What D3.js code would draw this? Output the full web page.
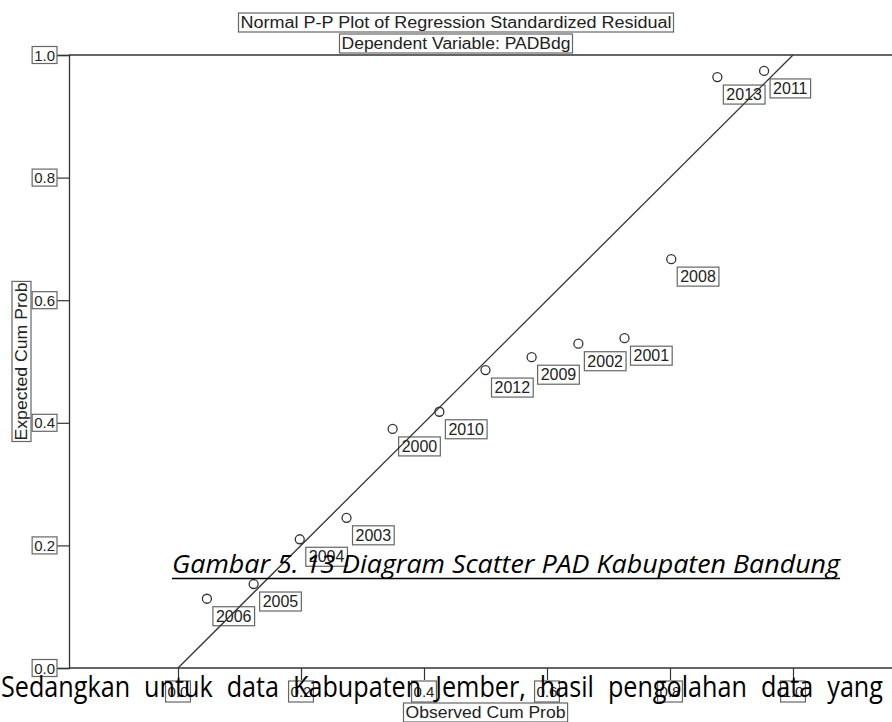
<!DOCTYPE html>
<html>
<head>
<meta charset="utf-8">
<script src="https://cdn.jsdelivr.net/npm/d3@7"></script>
<style>
  body { margin: 0; background: #fff; }
  svg { display: block; }
</style>
</head>
<body>
<div id="chart"></div>
<script>
// points, in the order SPSS draws them along the x axis
const years = ['2006', '2005', '2004', '2003', '2000', '2010', '2012', '2009', '2002', '2001', '2008', '2013', '2011']
const observed = [0.047, 0.123, 0.198, 0.274, 0.349, 0.425, 0.5, 0.575, 0.651, 0.726, 0.802, 0.877, 0.953]
const expected = [0.113, 0.137, 0.21, 0.245, 0.39, 0.418, 0.486, 0.507, 0.529, 0.538, 0.667, 0.964, 0.974]
const tickValues = [0, 0.2, 0.4, 0.6, 0.8, 1.0]
const titleLines = ['Normal P-P Plot of Regression Standardized Residual', 'Dependent Variable: PADBdg']
const xLabel = 'Observed Cum Prob'
const yLabel = 'Expected Cum Prob'
const caption = 'Gambar 5. 13 Diagram Scatter PAD Kabupaten Bandung'
const bodyWords = ['Sedangkan', 'untuk', 'data', 'Kabupaten', 'Jember,', 'hasil', 'pengolahan', 'data', 'yang']

const width = 892
const height = 722
const frame = { left: 69, right: 892, top: 55, bottom: 668 }
const ink = '#333'
const boxInk = '#666'
const spssFont = '"Liberation Sans", Arial, sans-serif'

const x = d3.scaleLinear().domain([0, 1]).range([178, 793])
const y = d3.scaleLinear().domain([0, 1]).range([frame.bottom, frame.top])
const fmt = d3.format('.1f')

const svg = d3.select('#chart').append('svg')
  .attr('width', width)
  .attr('height', height)
  .attr('font-family', spssFont)

// text with a thin box round it, like the SPSS export
function boxed(parent, str, tx, ty, anchor, size, padX, padY, rotate, len) {
  const g = parent.append('g')
  if (rotate) g.attr('transform', `translate(${tx},${ty}) rotate(-90)`)
  const t = g.append('text')
    .attr('x', rotate ? 0 : tx)
    .attr('y', rotate ? 0 : ty)
    .attr('text-anchor', anchor)
    .attr('font-size', size)
    .attr('fill', '#222')
    .text(str)
  if (len) t.attr('textLength', len).attr('lengthAdjust', 'spacingAndGlyphs')
  const b = t.node().getBBox()
  g.insert('rect', 'text')
    .attr('x', b.x - padX)
    .attr('y', b.y - padY)
    .attr('width', b.width + padX * 2)
    .attr('height', b.height + padY * 2)
    .attr('fill', 'none')
    .attr('stroke', boxInk)
    .attr('stroke-width', 1.2)
  return g
}

// titles
boxed(svg, titleLines[0], 456, 28, 'middle', 16, 2, 1, false, 431)
boxed(svg, titleLines[1], 456, 49, 'middle', 16, 2, 1, false, 229)

// frame: top rule, y axis, x axis
svg.append('line')
  .attr('x1', frame.left).attr('x2', frame.right)
  .attr('y1', frame.top).attr('y2', frame.top)
  .attr('stroke', ink).attr('stroke-width', 1.3)

const yAxis = svg.append('g')
  .attr('transform', `translate(${frame.left},0)`)
  .call(d3.axisLeft(y).tickValues(tickValues).tickSize(12).tickFormat(''))
yAxis.select('.domain').attr('stroke', ink).attr('stroke-width', 1.3)
yAxis.selectAll('.tick line').attr('stroke', ink).attr('stroke-width', 1.2)

const xAxis = svg.append('g')
  .attr('transform', `translate(0,${frame.bottom})`)
  .call(d3.axisBottom(x).tickValues(tickValues).tickSize(12).tickFormat(''))
xAxis.select('.domain').remove()
xAxis.selectAll('.tick line').attr('stroke', ink).attr('stroke-width', 1.2)
svg.append('line')
  .attr('x1', frame.left).attr('x2', frame.right)
  .attr('y1', frame.bottom).attr('y2', frame.bottom)
  .attr('stroke', ink).attr('stroke-width', 1.3)

// tick labels in boxes
tickValues.forEach(v => {
  boxed(svg, fmt(v), 55, y(v) + 5.5, 'end', 15, 2, 0)
  boxed(svg, fmt(v), x(v), 697, 'middle', 15, 2, 2)
})

// axis titles
boxed(svg, xLabel, (x(0) + x(1)) / 2, 718, 'middle', 16, 2, 1, false, 160)
boxed(svg, yLabel, 27, (y(0) + y(1)) / 2, 'middle', 16, 1, 1, true, 158)

// point labels
const points = years.map((yr, i) => ({ year: yr, ox: observed[i], ey: expected[i] }))
points.forEach(d => {
  boxed(svg, d.year, x(d.ox) + 9, y(d.ey) + 23, 'start', 16, 3, 1)
})

// reference diagonal
svg.append('line')
  .attr('x1', x(0)).attr('y1', y(0))
  .attr('x2', x(1)).attr('y2', y(1))
  .attr('stroke', ink).attr('stroke-width', 1.3)

svg.append('g')
  .selectAll('circle')
  .data(points)
  .join('circle')
  .attr('cx', d => x(d.ox))
  .attr('cy', d => y(d.ey))
  .attr('r', 4.5)
  .attr('fill', 'none')
  .attr('stroke', ink)
  .attr('stroke-width', 1.3)

// caption from the document, overlapping the chart
const capX0 = 172
const capX1 = 840
svg.append('text')
  .attr('x', capX0)
  .attr('y', 573)
  .attr('font-family', '"Open Sans", "Noto Sans", sans-serif')
  .attr('font-style', 'italic')
  .attr('font-size', 26)
  .attr('fill', '#000')
  .attr('textLength', capX1 - capX0)
  .attr('lengthAdjust', 'spacingAndGlyphs')
  .text(caption)
svg.append('line')
  .attr('x1', capX0).attr('x2', capX1)
  .attr('y1', 578.5).attr('y2', 578.5)
  .attr('stroke', '#000').attr('stroke-width', 1.6)

// justified body line underneath
const bodyG = svg.append('g')
  .attr('font-family', '"Open Sans", "Noto Sans", sans-serif')
  .attr('font-size', 29)
  .attr('fill', '#000')
const words = bodyG.selectAll('text').data(bodyWords).join('text')
  .attr('y', 697)
  .text(d => d)
const widths = words.nodes().map(n => n.getComputedTextLength())
const lineStart = 1
const lineEnd = 883
const total = d3.sum(widths)
const k = Math.min(1, (lineEnd - lineStart - 14 * (bodyWords.length - 1)) / total)
const gap = (lineEnd - lineStart - total * k) / (bodyWords.length - 1)
let cursor = lineStart
words.each(function(d, i) {
  const w = widths[i] * k
  d3.select(this)
    .attr('x', cursor)
    .attr('textLength', w)
    .attr('lengthAdjust', 'spacingAndGlyphs')
  cursor += w + gap
})
</script>
</body>
</html>
